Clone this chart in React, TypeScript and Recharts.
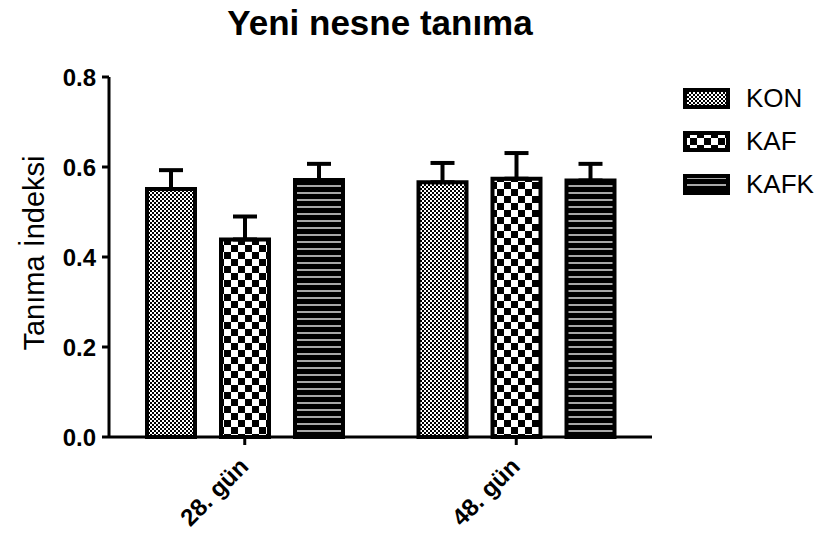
import { Bar, BarChart, ErrorBar, Legend, XAxis, YAxis } from "recharts"

const DAYS = ['28. gün', '48. gün']
const KON = [0.551, 0.566]
const KAF = [0.439, 0.574]
const KAFK = [0.571, 0.570]
const KON_ERR = [0.042, 0.043]
const KAF_ERR = [0.051, 0.057]
const KAFK_ERR = [0.036, 0.037]
const Y_TICKS = [0, 0.2, 0.4, 0.6, 0.8]

const SERIES = [
  { key: 'KON', fill: 'url(#konPat)' },
  { key: 'KAF', fill: 'url(#kafPat)' },
  { key: 'KAFK', fill: 'url(#kafkPat)' },
]

const FONT = "'Liberation Sans', Arial, sans-serif"

const data = DAYS.map((day, i) => ({
  day,
  KON: KON[i],
  KAF: KAF[i],
  KAFK: KAFK[i],
  konErr: [0, KON_ERR[i]],
  kafErr: [0, KAF_ERR[i]],
  kafkErr: [0, KAFK_ERR[i]],
}))

const DayTick = (props: any) => {
  const { x, y, payload } = props
  return (
    <text
      x={x + 5}
      y={y + 21}
      transform={`rotate(-45 ${x + 5} ${y + 21})`}
      textAnchor="end"
      fontSize={24}
      fontWeight="bold"
      fontFamily={FONT}
      fill="#000"
    >
      {payload.value}
    </text>
  )
}

const YTitle = (props: any) => {
  const { viewBox } = props
  const cx = viewBox.x + 34
  const cy = viewBox.y + viewBox.height / 2 - 4
  return (
    <text
      x={cx}
      y={cy}
      transform={`rotate(-90 ${cx} ${cy})`}
      textAnchor="middle"
      dominantBaseline="central"
      fontSize={29}
      fontFamily={FONT}
      fill="#000"
    >
      Tanıma İndeksi
    </text>
  )
}

const LegendBox = () => (
  <div style={{ fontFamily: FONT }}>
    {SERIES.map((s) => (
      <div key={s.key} style={{ display: 'flex', alignItems: 'center', height: 43 }}>
        <svg width={48} height={22}>
          <rect x={2} y={2} width={43} height={17} fill={s.fill} stroke="#000" strokeWidth={4} />
        </svg>
        <span style={{ fontSize: 26, marginLeft: 15, color: '#000' }}>{s.key}</span>
      </div>
    ))}
  </div>
)

export default function App() {
  return (
    <div style={{ position: 'absolute', left: 0, top: 0, width: 828, height: 541, background: '#fff' }}>
      <div
        style={{
          position: 'absolute',
          left: 0,
          width: 760,
          top: 3,
          textAlign: 'center',
          fontFamily: FONT,
          fontWeight: 'bold',
          fontSize: 35,
          color: '#000',
        }}
      >
        Yeni nesne tanıma
      </div>
      <BarChart
        width={828}
        height={541}
        data={data}
        margin={{ top: 77, right: 176, bottom: 0, left: 0 }}
        barGap={26}
      >
        <defs>
          <pattern id="konPat" width={4} height={4} patternUnits="userSpaceOnUse">
            <rect width={4} height={4} fill="#fff" />
            <rect x={0} y={0} width={2} height={2} fill="#000" />
            <rect x={2} y={2} width={2} height={2} fill="#000" />
          </pattern>
          <pattern id="kafPat" width={14} height={14} patternUnits="userSpaceOnUse">
            <rect width={14} height={14} fill="#fff" />
            <rect x={0} y={0} width={7} height={7} fill="#000" />
            <rect x={7} y={7} width={7} height={7} fill="#000" />
          </pattern>
          <pattern id="kafkPat" width={7} height={7} patternUnits="userSpaceOnUse">
            <rect width={7} height={7} fill="#000" />
            <rect x={0} y={3} width={7} height={2} fill="#a8a8a8" />
          </pattern>
        </defs>
        <XAxis
          dataKey="day"
          height={104}
          axisLine={{ stroke: '#000', strokeWidth: 3 }}
          tickLine={{ stroke: '#000', strokeWidth: 3 }}
          tickSize={8}
          tick={<DayTick />}
          interval={0}
        />
        <YAxis
          width={109}
          domain={[0, 0.8]}
          ticks={Y_TICKS}
          tickFormatter={(v: number) => v.toFixed(1)}
          axisLine={{ stroke: '#000', strokeWidth: 3 }}
          tickLine={{ stroke: '#000', strokeWidth: 3 }}
          tickSize={7}
          tickMargin={6}
          tick={{ fill: '#000', fontSize: 24, fontWeight: 'bold', fontFamily: FONT }}
          label={<YTitle />}
        />
        <Legend
          layout="vertical"
          align="center"
          verticalAlign="middle"
          content={<LegendBox />}
          wrapperStyle={{ left: 683, top: 77, width: 140, transform: 'none' }}
        />
        <Bar dataKey="KON" barSize={48} fill={SERIES[0].fill} stroke="#000" strokeWidth={4} isAnimationActive={false}>
          <ErrorBar dataKey="konErr" width={12} stroke="#000" strokeWidth={4} isAnimationActive={false} />
        </Bar>
        <Bar dataKey="KAF" barSize={48} fill={SERIES[1].fill} stroke="#000" strokeWidth={4} isAnimationActive={false}>
          <ErrorBar dataKey="kafErr" width={12} stroke="#000" strokeWidth={4} isAnimationActive={false} />
        </Bar>
        <Bar dataKey="KAFK" barSize={48} fill={SERIES[2].fill} stroke="#000" strokeWidth={4} isAnimationActive={false}>
          <ErrorBar dataKey="kafkErr" width={12} stroke="#000" strokeWidth={4} isAnimationActive={false} />
        </Bar>
      </BarChart>
    </div>
  )
}
